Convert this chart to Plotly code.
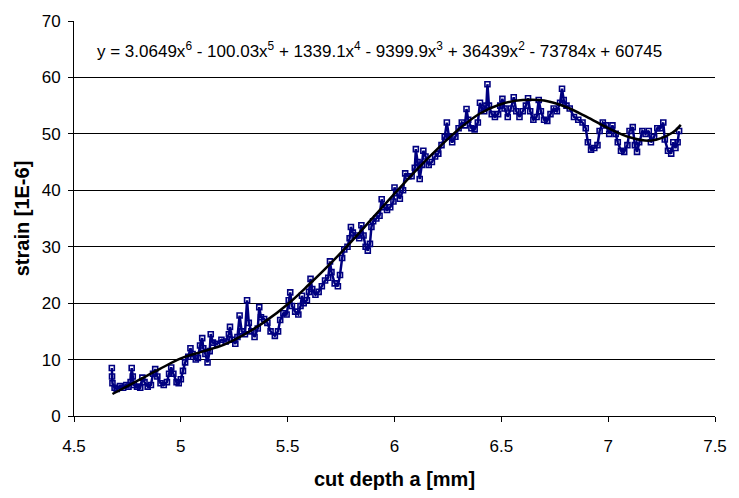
import plotly.graph_objects as go

# measured data (cut depth a [mm], strain [1E-6])
depth_mm = [
    4.677, 4.678, 4.680, 4.690, 4.700, 4.715, 4.730, 4.745, 4.755, 4.765, 4.770, 4.775, 4.780, 4.795,
    4.810, 4.820, 4.830, 4.845, 4.860, 4.870, 4.880, 4.890, 4.905, 4.920, 4.935, 4.945, 4.955, 4.965,
    4.980, 4.990, 5.000, 5.010, 5.020, 5.035, 5.045, 5.055, 5.070, 5.080, 5.090, 5.100, 5.105, 5.115,
    5.125, 5.135, 5.140, 5.150, 5.170, 5.190, 5.210, 5.225, 5.230, 5.240, 5.255, 5.265, 5.275, 5.285,
    5.300, 5.310, 5.318, 5.330, 5.345, 5.360, 5.367, 5.375, 5.390, 5.405, 5.420, 5.440, 5.455, 5.465,
    5.480, 5.495, 5.505, 5.512, 5.520, 5.535, 5.550, 5.560, 5.567, 5.575, 5.590, 5.600, 5.607, 5.615,
    5.630, 5.645, 5.660, 5.675, 5.690, 5.698, 5.705, 5.720, 5.735, 5.745, 5.755, 5.765, 5.780, 5.790,
    5.796, 5.805, 5.820, 5.835, 5.845, 5.855, 5.865, 5.875, 5.885, 5.892, 5.900, 5.915, 5.930, 5.940,
    5.950, 5.965, 5.980, 5.995, 6.000, 6.010, 6.025, 6.040, 6.050, 6.065, 6.080, 6.095, 6.100, 6.108,
    6.118, 6.128, 6.135, 6.145, 6.160, 6.175, 6.190, 6.205, 6.220, 6.235, 6.245, 6.255, 6.270, 6.285,
    6.300, 6.315, 6.330, 6.337, 6.345, 6.360, 6.375, 6.390, 6.400, 6.410, 6.420, 6.430, 6.435, 6.442,
    6.455, 6.470, 6.485, 6.495, 6.505, 6.515, 6.530, 6.545, 6.558, 6.570, 6.585, 6.600, 6.615, 6.625,
    6.635, 6.650, 6.665, 6.675, 6.685, 6.700, 6.715, 6.730, 6.745, 6.760, 6.775, 6.784, 6.792, 6.805,
    6.820, 6.840, 6.860, 6.880, 6.895, 6.905, 6.920, 6.935, 6.950, 6.960, 6.975, 6.990, 7.005, 7.020,
    7.035, 7.045, 7.060, 7.075, 7.090, 7.100, 7.115, 7.125, 7.135, 7.145, 7.160, 7.175, 7.190, 7.200,
    7.215, 7.230, 7.245, 7.258, 7.265, 7.280, 7.295, 7.305, 7.315, 7.325, 7.332,
]
strain = [
    8.5, 7.0, 5.8, 5.0, 4.8, 5.3, 5.0, 5.5, 5.2, 6.0, 8.5, 7.0, 5.5, 5.2,
    5.0, 6.8, 6.0, 5.2, 5.5, 7.5, 8.3, 7.0, 5.8, 5.5, 6.0, 7.5, 8.6, 7.5,
    6.0, 5.8, 6.5, 8.0, 9.5, 10.5, 12.0, 11.0, 10.0, 10.3, 12.5, 13.8, 12.0, 11.0,
    9.5, 11.5, 14.5, 13.0, 12.8, 13.5, 13.2, 14.5, 15.8, 13.5, 12.8, 14.0, 17.8, 15.0,
    14.5, 20.5, 16.5, 15.0, 14.0, 15.5, 19.3, 17.5, 17.2, 16.5, 15.0, 14.2, 15.0, 17.0,
    18.2, 18.0, 20.5, 21.9, 19.5, 18.5, 18.0, 19.5, 21.3, 20.0, 20.5, 22.0, 24.3, 22.5,
    21.5, 22.0, 23.0, 24.0, 24.5, 27.4, 25.5, 23.5, 23.0, 25.0, 28.0, 29.5, 30.0, 31.5,
    33.5, 32.5, 32.0, 31.5, 33.8, 32.0, 30.0, 29.3, 30.5, 33.5, 34.5, 35.0, 35.5, 38.4,
    37.0, 36.5, 37.0, 38.0, 40.5, 39.5, 38.5, 40.0, 43.0, 42.5, 42.5, 44.0, 47.3, 45.0,
    42.0, 44.5, 47.0, 46.0, 44.5, 45.0, 46.0, 46.5, 48.0, 49.5, 52.0, 49.5, 48.5, 49.5,
    51.0, 52.0, 51.5, 54.4, 52.5, 51.0, 50.8, 52.0, 55.5, 54.5, 54.0, 55.0, 58.8, 55.0,
    53.5, 53.0, 53.5, 55.0, 56.2, 54.5, 53.0, 54.5, 56.5, 54.0, 53.0, 54.0, 55.0, 56.3,
    54.0, 52.5, 53.0, 56.0, 54.0, 52.5, 52.3, 53.5, 54.5, 54.0, 55.5, 58.0, 56.0, 55.0,
    54.5, 53.0, 52.5, 52.0, 51.0, 48.5, 47.2, 47.5, 48.0, 50.5, 52.0, 51.5, 50.0, 51.5,
    50.0, 48.5, 47.0, 46.8, 48.0, 50.5, 51.2, 48.0, 46.8, 48.5, 50.5, 50.0, 50.5, 48.5,
    49.5, 51.0, 51.0, 52.0, 49.0, 47.0, 46.5, 48.5, 47.5, 48.5, 50.5,
]

# polynomial trend line as drawn
trend_depth = [4.68, 4.75, 4.8, 4.9, 5.0, 5.1, 5.2, 5.3, 5.4, 5.5, 5.6, 5.7, 5.8, 5.9, 6.0,
               6.1, 6.2, 6.3, 6.4, 6.5, 6.6, 6.7, 6.8, 6.9, 7.0, 7.1, 7.2, 7.3, 7.34]
trend_strain = [3.9, 5.3, 6.3, 8.3, 10.2, 11.4, 12.6, 14.5, 16.9, 19.8, 23.3, 27.0, 31.0, 35.2, 39.4,
                43.5, 47.3, 50.8, 53.6, 55.3, 56.0, 55.9, 54.8, 53.0, 51.0, 49.4, 48.8, 50.2, 51.6]

x_ticks = [4.5, 5, 5.5, 6, 6.5, 7, 7.5]
x_tick_labels = ["4.5", "5", "5.5", "6", "6.5", "7", "7.5"]
y_ticks = [0, 10, 20, 30, 40, 50, 60, 70]

equation = ("y = 3.0649x<sup>6</sup> - 100.03x<sup>5</sup> + 1339.1x<sup>4</sup> - 9399.9x<sup>3</sup>"
            " + 36439x<sup>2</sup> - 73784x + 60745")

FONT = "Arial, 'Liberation Sans', sans-serif"

fig = go.Figure()
fig.add_trace(go.Scatter(
    x=depth_mm, y=strain, mode="lines+markers",
    line=dict(color="#000080", width=2.5),
    marker=dict(symbol="square-open", size=5, color="#000080", line=dict(width=1.6)),
    showlegend=False,
))
fig.add_trace(go.Scatter(
    x=trend_depth, y=trend_strain, mode="lines",
    line=dict(color="black", width=2.5, shape="spline"),
    showlegend=False,
))

fig.add_annotation(
    x=5.93, y=64.9, xref="x", yref="y",
    xanchor="center", yanchor="middle", showarrow=False,
    text=equation, font=dict(family=FONT, size=17, color="black"),
)

fig.update_layout(
    width=739, height=498,
    margin=dict(l=74, r=18, t=15, b=80),
    paper_bgcolor="white", plot_bgcolor="white",
    font=dict(family=FONT, color="black"),
)
fig.update_xaxes(
    range=[4.5, 7.5], tickmode="array",
    tickvals=x_ticks, ticktext=x_tick_labels,
    ticks="outside", ticklen=5, tickcolor="black", tickwidth=1,
    ticklabelstandoff=10,
    showline=True, linecolor="black", linewidth=1,
    showgrid=False, zeroline=False,
    tickfont=dict(family=FONT, size=17, color="black"),
    title=dict(text="<b>cut depth a [mm]</b>", font=dict(family=FONT, size=20, color="black"), standoff=16),
)
fig.update_yaxes(
    range=[0, 70], tickmode="array",
    tickvals=y_ticks,
    ticks="outside", ticklen=5, tickcolor="black", tickwidth=1,
    ticklabelstandoff=4,
    showline=True, linecolor="black", linewidth=1,
    showgrid=True, gridcolor="black", gridwidth=1, zeroline=False,
    tickfont=dict(family=FONT, size=17, color="black"),
    title=dict(text="<b>strain [1E-6]</b>", font=dict(family=FONT, size=20, color="black"), standoff=6),
)

fig.write_html("out.html")
